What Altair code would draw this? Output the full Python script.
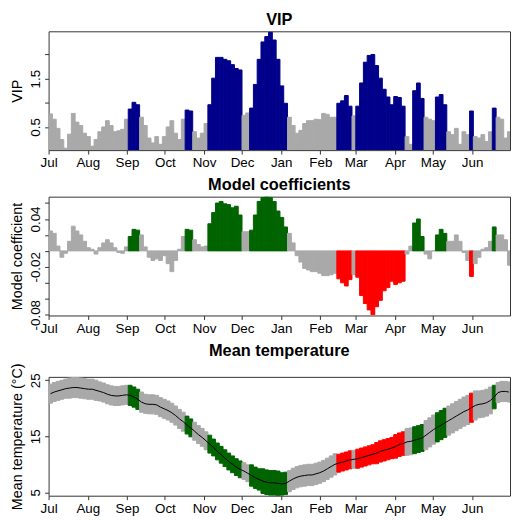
import altair as alt
import pandas as pd

MONTHS = ["Jul", "Aug", "Sep", "Oct", "Nov", "Dec", "Jan", "Feb", "Mar", "Apr", "May", "Jun"]
MONTH_START_DAY = [0, 31, 62, 92, 123, 153, 184, 215, 243, 274, 304, 335]
YEAR_DAYS = 365
BIN_DAYS = 3

VIP = [0.77, 0.66, 0.47, 0.24, 0.06, 0.35, 0.78, 0.60, 0.53, 0.37,
       0.30, 0.10, 0.24, 0.40, 0.50, 0.63, 0.53, 0.40, 0.42, 0.45,
       0.66, 0.87, 1.01, 0.96, 0.70, 0.53, 0.27, 0.17, 0.30, 0.14,
       0.30, 0.50, 0.63, 0.37, 0.24, 0.66, 0.85, 0.83, 0.40, 0.27,
       0.37, 0.57, 0.96, 1.51, 1.94, 1.94, 1.90, 1.87, 1.79, 1.71,
       1.68, 0.74, 0.79, 0.89, 1.38, 1.90, 2.26, 2.37, 2.46, 2.30,
       1.90, 1.35, 0.99, 0.70, 0.53, 0.37, 0.43, 0.57, 0.63, 0.63,
       0.66, 0.65, 0.78, 0.76, 0.70, 0.70, 0.99, 1.04, 1.15, 0.93,
       0.73, 0.93, 1.41, 1.84, 1.98, 2.00, 1.77, 1.51, 1.28, 1.12,
       0.96, 1.13, 1.11, 0.93, 0.30, 0.14, 1.25, 1.41, 1.09, 0.70,
       0.66, 0.63, 1.12, 1.17, 0.96, 0.40, 0.34, 0.47, 0.14, 0.40,
       0.34, 0.83, 0.30, 0.27, 0.34, 0.20, 0.40, 0.89, 0.70, 0.66,
       0.27, 0.40]

COEF = [0.025, 0.022, 0.006, -0.008, -0.003, 0.012, 0.031, 0.025, 0.020, 0.012,
        0.004, 0.002, -0.004, 0.004, 0.010, 0.014, 0.010, 0.004, -0.002, -0.003,
        0.005, 0.018, 0.027, 0.026, 0.020, 0.005, -0.008, -0.012, -0.010, -0.012,
        -0.006, -0.016, -0.026, -0.012, 0.002, 0.018, 0.027, 0.026, 0.014, 0.008,
        0.005, 0.006, 0.034, 0.048, 0.060, 0.062, 0.059, 0.058, 0.054, 0.056,
        0.045, 0.024, 0.024, 0.026, 0.045, 0.062, 0.067, 0.068, 0.067, 0.062,
        0.050, 0.042, 0.030, 0.022, 0.010, -0.006, -0.014, -0.022, -0.024, -0.026,
        -0.026, -0.028, -0.031, -0.031, -0.030, -0.028, -0.035, -0.040, -0.044, -0.036,
        -0.030, -0.033, -0.056, -0.066, -0.074, -0.080, -0.070, -0.062, -0.050, -0.046,
        -0.038, -0.042, -0.040, -0.038, -0.004, 0.006, 0.035, 0.040, 0.018, -0.004,
        -0.010, 0.000, 0.020, 0.027, 0.022, 0.012, 0.012, 0.020, 0.012, -0.002,
        -0.012, -0.032, -0.016, -0.008, 0.002, 0.004, 0.012, 0.030, 0.020, 0.020,
        0.014, -0.018]

TMEAN = [22.6, 22.9, 23.1, 23.3, 23.5, 23.6, 23.7, 23.7, 23.6, 23.5,
         23.4, 23.4, 23.2, 23.0, 22.8, 22.5, 22.3, 22.2, 22.2, 22.3,
         22.4, 22.3, 22.0, 21.6, 21.1, 20.8, 20.7, 20.7, 20.6, 20.2,
         19.9, 19.6, 19.2, 18.7, 18.1, 17.6, 17.0, 16.5, 15.9, 15.3,
         14.8, 14.2, 13.6, 13.0, 12.3, 11.7, 11.1, 10.5, 10.0, 9.5,
         9.1, 8.8, 8.4, 8.0, 7.6, 7.3, 7.0, 6.8, 6.7, 6.7,
         6.6, 6.5, 6.6, 7.0, 7.4, 7.7, 7.9, 8.0, 8.1, 8.1,
         8.3, 8.5, 8.8, 9.2, 9.6, 10.0, 10.2, 10.4, 10.6, 10.8,
         10.9, 11.0, 11.2, 11.4, 11.6, 11.8, 12.0, 12.3, 12.5, 12.7,
         12.9, 13.2, 13.5, 13.7, 14.0, 14.1, 14.3, 14.5, 14.7, 15.2,
         15.7, 16.2, 16.6, 17.0, 17.4, 17.8, 18.2, 18.6, 19.0, 19.4,
         19.7, 20.1, 20.5, 20.7, 20.8, 21.0, 21.4, 22.0, 22.8, 23.0,
         23.0, 22.9]

TSD = [1.7, 1.7, 1.7, 1.7, 1.7, 1.8, 1.8, 1.8, 1.8, 1.8,
       1.8, 1.8, 1.8, 1.7, 1.7, 1.7, 1.7, 1.7, 1.7, 1.7,
       1.7, 1.8, 1.8, 1.8, 1.8, 1.7, 1.7, 1.7, 1.7, 1.7,
       1.7, 1.7, 1.7, 1.7, 1.7, 1.7, 1.6, 1.6, 1.6, 1.6,
       1.6, 1.6, 1.6, 1.5, 1.5, 1.5, 1.5, 1.5, 1.5, 1.5,
       1.5, 1.5, 1.5, 1.9, 1.9, 1.9, 2.2, 2.2, 2.2, 2.2,
       2.2, 2.0, 2.0, 1.9, 1.9, 1.9, 1.9, 1.9, 1.9, 1.9,
       1.9, 1.9, 1.9, 1.9, 1.9, 1.9, 1.6, 1.6, 1.6, 1.6,
       1.6, 1.7, 1.7, 1.7, 1.7, 1.7, 1.9, 1.9, 1.9, 1.9,
       1.9, 2.1, 2.1, 2.1, 2.4, 2.4, 2.4, 2.4, 2.4, 2.6,
       2.6, 2.6, 2.6, 2.6, 2.6, 2.6, 2.6, 2.6, 2.6, 2.6,
       2.6, 2.6, 2.6, 2.4, 2.4, 2.4, 2.4, 2.1, 1.8, 1.8,
       1.8, 1.8]

VIP_THRESHOLD = 0.8
GREY, BLUE, GREEN, RED = "#A9A9A9", "#00008B", "#006400", "#FF0000"
FONT = "Liberation Sans"

n = len(VIP)
rows = []
for i in range(n):
    s = BIN_DAYS * i
    e = min(BIN_DAYS * (i + 1), YEAR_DAYS)
    sig = VIP[i] > VIP_THRESHOLD
    ccat = "ns" if not sig else ("pos" if COEF[i] > 0 else "neg")
    rows.append(dict(start=s, end=e, mid=(s + e) / 2, vip=VIP[i], coef=COEF[i],
                     tmean=TMEAN[i], tlo=TMEAN[i] - TSD[i], thi=TMEAN[i] + TSD[i],
                     vipcat="sig" if sig else "ns", ccat=ccat))
df = pd.DataFrame(rows)

W, H = 466, 120

month_expr = "[" + ",".join("'%s'" % m for m in MONTHS) + "][indexof([" + \
    ",".join(str(d) for d in MONTH_START_DAY) + "], datum.value)]"

xscale = alt.Scale(domain=[0, YEAR_DAYS], nice=False, zero=False)


def xaxis():
    return alt.Axis(values=MONTH_START_DAY, labelExpr=month_expr, title=None,
                    grid=False, domain=False, tickSize=4, labelPadding=2,
                    labelFlush=False, labelOverlap=False)


def label_expr(shown):
    parts = ["abs(datum.value - (%s)) < 1e-9 ? '%s'" % (v, t) for v, t in shown]
    return " : ".join(parts) + " : ''"


def yaxis(title, values, shown):
    return alt.Axis(title=title, values=values, labelExpr=label_expr(shown),
                    grid=False, domain=False, tickSize=4, labelAngle=270,
                    labelAlign="center", labelBaseline="bottom", labelPadding=2,
                    titlePadding=4)


vip_color = alt.Scale(domain=["ns", "sig"], range=[GREY, BLUE])
coef_color = alt.Scale(domain=["ns", "pos", "neg"], range=[GREY, GREEN, RED])

base = alt.Chart(df)

p1 = base.mark_rect(clip=True, strokeWidth=1).encode(
    x=alt.X("start:Q", scale=xscale, axis=xaxis()),
    x2="end:Q",
    y=alt.Y("vip:Q", scale=alt.Scale(domain=[0.02, 2.48], nice=False, zero=False),
            axis=yaxis("VIP", [0.5, 1.0, 1.5, 2.0], [(0.5, "0.5"), (1.5, "1.5")])),
    y2=alt.datum(0),
    color=alt.Color("vipcat:N", scale=vip_color, legend=None),
    stroke=alt.Stroke("vipcat:N", scale=vip_color, legend=None),
).properties(width=W, height=H, title="VIP")

p2 = base.mark_rect(clip=True, strokeWidth=1).encode(
    x=alt.X("start:Q", scale=xscale, axis=xaxis()),
    x2="end:Q",
    y=alt.Y("coef:Q", scale=alt.Scale(domain=[-0.081, 0.068], nice=False, zero=False),
            axis=yaxis("Model coefficient",
                       [-0.08, -0.06, -0.04, -0.02, 0.0, 0.02, 0.04, 0.06],
                       [(0.04, "0.04"), (-0.02, "-0.02"), (-0.08, "-0.08")])),
    y2=alt.datum(0),
    color=alt.Color("ccat:N", scale=coef_color, legend=None),
    stroke=alt.Stroke("ccat:N", scale=coef_color, legend=None),
).properties(width=W, height=H, title="Model coefficients")

tscale = alt.Scale(domain=[4.4, 25.6], nice=False, zero=False)
band = base.mark_rect(clip=True, strokeWidth=1).encode(
    x=alt.X("start:Q", scale=xscale, axis=xaxis()),
    x2="end:Q",
    y=alt.Y("tlo:Q", scale=tscale,
            axis=yaxis("Mean temperature (°C)", [5, 10, 15, 20, 25],
                       [(5, "5"), (10, "10"), (15, "15"), (20, "20"), (25, "25")])),
    y2="thi:Q",
    color=alt.Color("ccat:N", scale=coef_color, legend=None),
    stroke=alt.Stroke("ccat:N", scale=coef_color, legend=None),
)
line = base.mark_line(color="black", strokeWidth=1, clip=True).encode(
    x=alt.X("mid:Q", scale=xscale),
    y=alt.Y("tmean:Q", scale=tscale),
)
p3 = alt.layer(band, line).properties(width=W, height=H, title="Mean temperature")

chart = alt.vconcat(p1, p2, p3, spacing=7).resolve_scale(
    color="independent", stroke="independent"
).properties(padding=1).configure_view(
    stroke="#333333", strokeWidth=1
).configure_axis(
    labelFont=FONT, labelFontSize=13.5, labelColor="black",
    titleFont=FONT, titleFontSize=14.5, titleFontWeight="normal", titleColor="black",
    tickColor="#333333"
).configure_title(
    font=FONT, fontSize=16.5, fontWeight="bold", anchor="middle", offset=3, color="black"
)

chart.save("out.html", embed_options={"renderer": "svg", "actions": False})
